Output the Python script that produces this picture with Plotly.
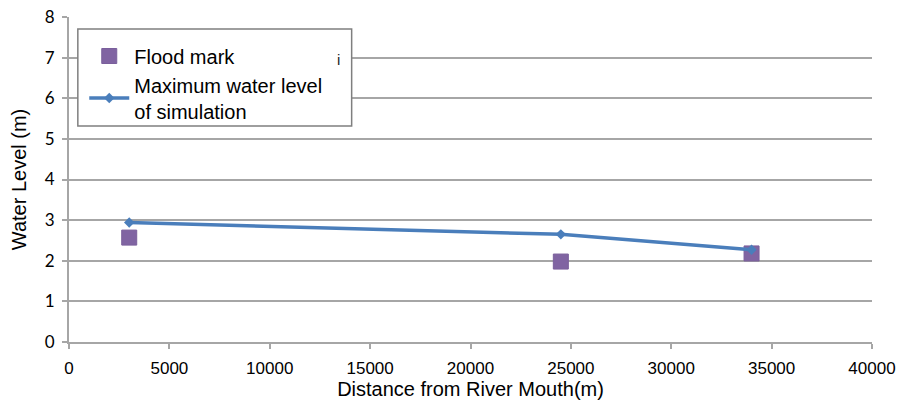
import plotly.graph_objects as go

# Flood marks observed along the river
mark_distance = [3000, 24500, 34000]
mark_level = [2.57, 1.98, 2.18]

# Maximum simulated water level at the same stations
sim_distance = [3000, 24500, 34000]
sim_level = [2.94, 2.65, 2.27]

x_ticks = [0, 5000, 10000, 15000, 20000, 25000, 30000, 35000, 40000]
x_tick_text = [str(v) for v in x_ticks]
y_ticks = [0, 1, 2, 3, 4, 5, 6, 7, 8]

grid = "#a6a6a6"

fig = go.Figure()
fig.add_trace(go.Scatter(
    x=mark_distance, y=mark_level, mode="markers", name="Flood mark",
    marker=dict(symbol="square", size=15, color="#8064a2",
                line=dict(width=1, color="#7a5f9c")),
))
fig.add_trace(go.Scatter(
    x=sim_distance, y=sim_level, mode="lines+markers",
    name="Maximum water level<br>of simulation",
    line=dict(color="#4a7ebb", width=3.5),
    marker=dict(symbol="diamond", size=8, color="#4a7ebb"),
))

# Legend frame
fig.add_shape(type="rect", xref="paper", yref="paper",
              x0=0.011, x1=0.352, y0=0.665, y1=0.963,
              line=dict(color="#7f7f7f", width=1.5), fillcolor="white",
              layer="above")
fig.add_annotation(x=0.335, y=0.9, xref="paper", yref="paper",
                   text="i", showarrow=False,
                   font=dict(size=15, color="#222222", family="Liberation Sans"))

fig.update_layout(
    width=899, height=405,
    margin=dict(l=69, r=27, t=17, b=63, autoexpand=False),
    paper_bgcolor="white", plot_bgcolor="white",
    font=dict(family="Liberation Sans, Arial, sans-serif", color="#000000"),
    legend=dict(x=0.019, y=0.94, xanchor="left", yanchor="top",
                bgcolor="rgba(0,0,0,0)", borderwidth=0,
                font=dict(size=20, color="#000000"), tracegroupgap=8,
                itemwidth=40),
    xaxis=dict(range=[0, 40000], tickvals=x_ticks, ticktext=x_tick_text,
               showgrid=False, automargin=False,
               showline=True, linecolor=grid, linewidth=2,
               ticks="outside", ticklen=5, tickcolor=grid, tickwidth=1.5,
               tickfont=dict(size=17), ticklabelstandoff=5,
               title=dict(text="Distance from River Mouth(m)",
                          font=dict(size=20), standoff=0),
               zeroline=False),
    yaxis=dict(range=[0, 8], tickvals=y_ticks, showgrid=True,
               gridcolor=grid, gridwidth=2, automargin=False,
               showline=True, linecolor=grid, linewidth=2,
               ticks="outside", ticklen=5, tickcolor=grid, tickwidth=1.5,
               tickfont=dict(size=17, family="Lato, Open Sans, Liberation Sans"),
               ticklabelstandoff=4,
               title=dict(text="Water Level (m)", font=dict(size=20),
                          standoff=13),
               zeroline=False),
)

fig.write_html("out.html")
